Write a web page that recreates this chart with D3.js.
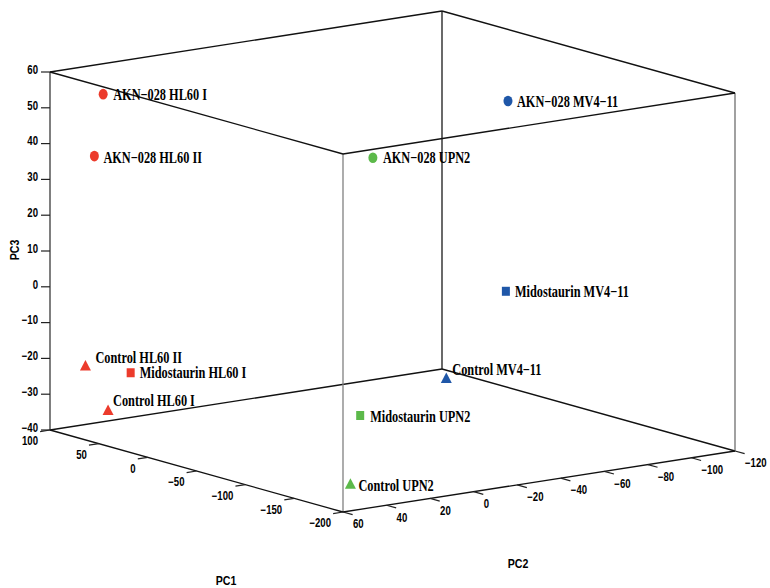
<!DOCTYPE html>
<html>
<head>
<meta charset="utf-8">
<script src="https://cdn.jsdelivr.net/npm/d3@7"></script>
<style>
  body { margin: 0; background: #fff; }
  .tick text, .axis-title { font-family: "Liberation Sans", Arial, sans-serif; font-weight: bold; }
  .lab { font-family: "Liberation Serif", "Times New Roman", serif; font-weight: bold; }
</style>
</head>
<body>
<svg id="chart" width="770" height="588"></svg>
<script>
// PCA scores
var samples = ["AKN\u2212028 HL60 I", "AKN\u2212028 HL60 II", "Control HL60 II", "Midostaurin HL60 I", "Control HL60 I",
               "AKN\u2212028 UPN2", "Midostaurin UPN2", "Control UPN2",
               "AKN\u2212028 MV4\u221211", "Midostaurin MV4\u221211", "Control MV4\u221211"];
var cellLine = ["HL60", "HL60", "HL60", "HL60", "HL60", "UPN2", "UPN2", "UPN2", "MV4-11", "MV4-11", "MV4-11"];
var treatment = ["AKN-028", "AKN-028", "Control", "Midostaurin", "Control",
                 "AKN-028", "Midostaurin", "Control",
                 "AKN-028", "Midostaurin", "Control"];
var pc1 = [79, 88, 86, 62, 74, -186, -173, -163, -1, -10, 51];
var pc2 = [45, 45, 50, 40, 45, 40, 40, 40, -105, -100, -100];
var pc3 = [54, 36, -22, -23, -34, 56, -17, -37, 44, -8, -37];

var pc1Ticks = [100, 50, 0, -50, -100, -150, -200];
var pc2Ticks = [60, 40, 20, 0, -20, -40, -60, -80, -100, -120];
var pc3Ticks = [60, 50, 40, 30, 20, 10, 0, -10, -20, -30, -40];

// layout only
var labelShift = [[10, 0], [9, 1], [10, -9], [9, 0], [5, -10], [10, 0], [10, 1], [8, 1], [9, 0], [9, 0], [6, -9]];

var svg = d3.select("#chart");

var s1 = d3.scaleLinear().domain([100, -200]).range([0, 1]),
    s2 = d3.scaleLinear().domain([60, -120]).range([0, 1]),
    s3 = d3.scaleLinear().domain([-40, 60]).range([0, 1]);

var origin = [50, 430],
    u1 = [293, 82],   // screen vector of the whole PC1 range
    u2 = [392, -61],  // PC2
    u3 = [0, -358];   // PC3

function project(a, b, c) {
    var f1 = s1(a), f2 = s2(b), f3 = s3(c);
    return [origin[0] + f1 * u1[0] + f2 * u2[0] + f3 * u3[0],
            origin[1] + f1 * u1[1] + f2 * u2[1] + f3 * u3[1]];
}

var color = d3.scaleOrdinal()
    .domain(["HL60", "UPN2", "MV4-11"])
    .range(["#ec3b2c", "#5cb94a", "#1f57a8"]);

var shape = d3.scaleOrdinal()
    .domain(["AKN-028", "Midostaurin", "Control"])
    .range(["circle", "square", "triangle"]);

var d1 = s1.domain(), d2 = s2.domain(), d3d = s3.domain();

function edge(p, q, col, w) {
    var a = project.apply(null, p), b = project.apply(null, q);
    svg.append("line")
        .attr("x1", a[0]).attr("y1", a[1])
        .attr("x2", b[0]).attr("y2", b[1])
        .attr("stroke", col)
        .attr("stroke-width", w || 1.3);
}

// back edges
edge([d1[0], d2[1], d3d[0]], [d1[0], d2[1], d3d[1]], "#1a1a1a");
edge([d1[0], d2[0], d3d[0]], [d1[0], d2[1], d3d[0]], "#111");
edge([d1[0], d2[1], d3d[0]], [d1[1], d2[1], d3d[0]], "#111");
// verticals
edge([d1[1], d2[0], d3d[0]], [d1[1], d2[0], d3d[1]], "#808080");
edge([d1[1], d2[1], d3d[0]], [d1[1], d2[1], d3d[1]], "#6e6e6e");
edge([d1[0], d2[0], d3d[0]], [d1[0], d2[0], d3d[1]], "#3a3a3a");
// top face
edge([d1[0], d2[0], d3d[1]], [d1[0], d2[1], d3d[1]], "#111");
edge([d1[0], d2[1], d3d[1]], [d1[1], d2[1], d3d[1]], "#111");
edge([d1[1], d2[1], d3d[1]], [d1[1], d2[0], d3d[1]], "#111");
edge([d1[1], d2[0], d3d[1]], [d1[0], d2[0], d3d[1]], "#111");
// front bottom axes
edge([d1[0], d2[0], d3d[0]], [d1[1], d2[0], d3d[0]], "#111");
edge([d1[1], d2[0], d3d[0]], [d1[1], d2[1], d3d[0]], "#111");

// ticks
var tickG = svg.append("g").attr("class", "tick");
var fmt = function (t) { return String(t).replace("-", "\u2212"); };

pc3Ticks.forEach(function (t) {
    var p = project(d1[0], d2[0], t);
    tickG.append("line").attr("x1", p[0] - 9).attr("y1", p[1]).attr("x2", p[0]).attr("y2", p[1])
        .attr("stroke", "#222").attr("stroke-width", 1.2);
    tickG.append("text")
        .attr("transform", "translate(" + (p[0] - 12) + "," + (p[1] - 2.5) + ") scale(0.8,1)")
        .attr("text-anchor", "end").attr("dy", "0.36em").attr("font-size", 12)
        .text(fmt(t));
});

var len2 = Math.hypot(u2[0], u2[1]), len1 = Math.hypot(u1[0], u1[1]);
pc1Ticks.forEach(function (t) {
    var p = project(t, d2[0], d3d[0]);
    tickG.append("line").attr("x1", p[0]).attr("y1", p[1])
        .attr("x2", p[0] - 10 * u2[0] / len2).attr("y2", p[1] - 10 * u2[1] / len2)
        .attr("stroke", "#222").attr("stroke-width", 1.2);
    tickG.append("text")
        .attr("transform", "translate(" + (p[0] - 12) + "," + (p[1] + 11) + ") scale(0.8,1)")
        .attr("text-anchor", "end").attr("dy", "0.36em").attr("font-size", 12)
        .text(fmt(t));
});

pc2Ticks.forEach(function (t) {
    var p = project(d1[1], t, d3d[0]);
    tickG.append("line").attr("x1", p[0]).attr("y1", p[1])
        .attr("x2", p[0] + 10 * u1[0] / len1).attr("y2", p[1] + 10 * u1[1] / len1)
        .attr("stroke", "#222").attr("stroke-width", 1.2);
    tickG.append("text")
        .attr("transform", "translate(" + (p[0] + 10) + "," + (p[1] + 12) + ") scale(0.8,1)")
        .attr("text-anchor", "start").attr("dy", "0.36em").attr("font-size", 12)
        .text(fmt(t));
});

// axis titles
svg.append("text").attr("class", "axis-title")
    .attr("transform", "translate(226,580) scale(0.85,1)")
    .attr("text-anchor", "middle").attr("dy", "0.36em").attr("font-size", 12.5).text("PC1");
svg.append("text").attr("class", "axis-title")
    .attr("transform", "translate(518,563) scale(0.85,1)")
    .attr("text-anchor", "middle").attr("dy", "0.36em").attr("font-size", 12.5).text("PC2");
svg.append("text").attr("class", "axis-title")
    .attr("transform", "translate(14,250) rotate(-90) scale(0.85,1)")
    .attr("text-anchor", "middle").attr("dy", "0.36em").attr("font-size", 12.5).text("PC3");

// points
var pts = samples.map(function (s, i) {
    return { name: s, line: cellLine[i], trt: treatment[i], p: project(pc1[i], pc2[i], pc3[i]), off: labelShift[i] };
});

var g = svg.append("g").selectAll("g").data(pts).enter().append("g")
    .attr("transform", function (d) { return "translate(" + d.p[0] + "," + d.p[1] + ")"; });

g.each(function (d) {
    var el = d3.select(this), k = shape(d.trt), c = color(d.line);
    if (k === "circle") el.append("ellipse").attr("rx", 4.5).attr("ry", 5.3).attr("fill", c);
    else if (k === "square") el.append("rect").attr("x", -4).attr("y", -4.5).attr("width", 8).attr("height", 9).attr("fill", c);
    else el.append("path").attr("d", "M0,-6L5.5,4.5L-5.5,4.5Z").attr("fill", c);
});

g.append("text").attr("class", "lab")
    .attr("transform", function (d) { return "translate(" + d.off[0] + "," + d.off[1] + ") scale(0.77,1)"; })
    .attr("dy", "0.35em").attr("font-size", 16)
    .text(function (d) { return d.name; });
</script>
</body>
</html>
